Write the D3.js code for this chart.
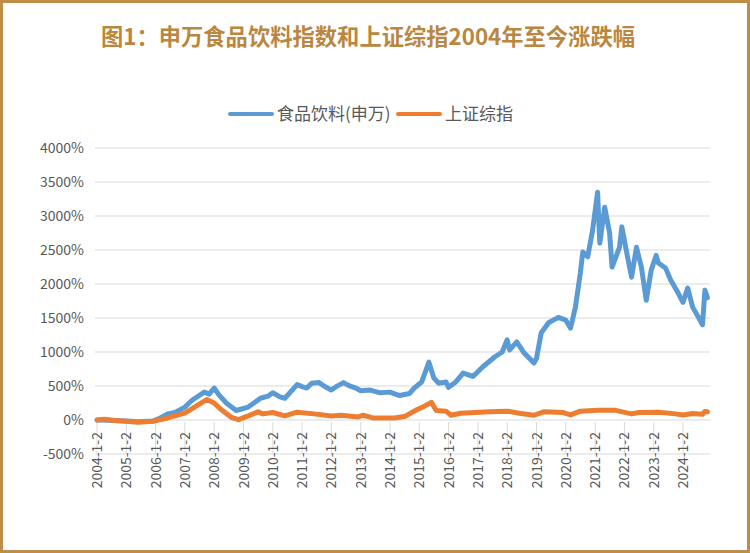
<!DOCTYPE html>
<html><head><meta charset="utf-8">
<script src="https://cdn.jsdelivr.net/npm/d3@7"></script>
<style>
html,body{margin:0;padding:0;background:#fff;}
svg{display:block;}
</style></head>
<body>
<script>
const title = "图1：申万食品饮料指数和上证综指2004年至今涨跌幅";
const seriesNames = ["食品饮料(申万)", "上证综指"];
const yTicks = [-500, 0, 500, 1000, 1500, 2000, 2500, 3000, 3500, 4000];
const xTickYears = d3.range(2004, 2025);

const foodDates = ["2004-01-02","2004-06","2005-01","2005-06","2005-12","2006-03","2006-06","2006-09","2007-01","2007-04","2007-09","2007-11","2008-01","2008-03","2008-06","2008-10","2009-03","2009-08","2009-11","2010-01","2010-04","2010-06","2010-11","2011-01","2011-03","2011-05","2011-08","2011-10","2012-01","2012-03","2012-06","2012-08","2012-11","2013-01","2013-05","2013-09","2014-01","2014-05","2014-09","2014-11","2015-02","2015-05","2015-07","2015-09","2015-12","2016-01","2016-04","2016-07","2016-11","2017-03","2017-08","2017-11","2018-01","2018-02","2018-05","2018-08","2018-12","2019-01","2019-03","2019-06","2019-10","2020-01","2020-03","2020-05","2020-07","2020-08","2020-10","2020-12","2021-02","2021-03","2021-05","2021-07","2021-08","2021-11","2021-12","2022-02","2022-04","2022-06","2022-08","2022-10","2022-12","2023-02","2023-03","2023-06","2023-08","2023-11","2024-01","2024-03","2024-05","2024-08","2024-09","2024-10","2024-11"];
const foodValues = [0,-5,-15,-25,-15,30,90,110,190,290,410,380,470,370,250,140,190,320,350,400,340,320,520,490,470,540,550,500,440,490,550,510,470,430,440,400,410,360,390,470,560,850,620,540,560,480,560,690,640,780,930,1000,1180,1030,1150,985,840,900,1280,1430,1510,1470,1350,1660,2160,2470,2400,2790,3350,2600,3130,2750,2250,2540,2840,2450,2100,2540,2250,1760,2200,2420,2310,2230,2060,1870,1730,1940,1660,1470,1400,1910,1800];

const shDates = ["2004-01-02","2004-04","2004-09","2005-01","2005-06","2005-12","2006-06","2007-01","2007-05","2007-10","2008-01","2008-04","2008-08","2008-11","2009-03","2009-07","2009-09","2010-01","2010-06","2010-11","2011-06","2012-01","2012-05","2012-12","2013-02","2013-06","2014-03","2014-07","2014-12","2015-03","2015-06","2015-08","2015-12","2016-02","2016-06","2017-06","2018-01","2018-06","2018-12","2019-04","2019-12","2020-03","2020-07","2021-02","2021-09","2022-04","2022-07","2023-03","2023-10","2024-01","2024-05","2024-09","2024-10","2024-11"];
const shValues = [0,10,-10,-20,-35,-20,30,100,190,300,250,150,40,5,60,120,90,110,60,115,90,60,70,45,70,30,30,50,150,200,260,140,130,70,100,120,130,100,70,120,110,75,130,145,145,90,110,115,90,75,95,85,125,120];

const W = 750, H = 553;
const svg = d3.select("body").append("svg").attr("width", W).attr("height", H);
const gold = "#BE8D48";
svg.append("rect").attr("x",1.5).attr("y",1.5).attr("width",W-3).attr("height",H-3)
  .attr("fill","#fff").attr("stroke",gold).attr("stroke-width",3);

svg.append("text").attr("x",368).attr("y",45).attr("text-anchor","middle")
  .attr("font-family","'Noto Sans CJK SC', sans-serif").attr("font-weight","bold")
  .attr("font-size",22.3).attr("fill","#B9873F").text(title);

const parse = s => s.length === 10 ? d3.timeParse("%Y-%m-%d")(s) : d3.timeParse("%Y-%m")(s);
const x = d3.scaleTime().domain([new Date(2004,0,2), new Date(2024,0,2)]).range([97, 683]);
const y = d3.scaleLinear().domain([-500, 4000]).range([454, 148]);

const font = "'Noto Sans CJK SC', sans-serif";
const grey = "#595959";
svg.append("g").selectAll("line").data(yTicks).join("line")
  .attr("x1",95).attr("x2",710).attr("y1",d=>y(d)).attr("y2",d=>y(d))
  .attr("stroke","#D9D9D9").attr("stroke-width",1);
svg.append("g").selectAll("text").data(yTicks).join("text")
  .attr("x",84).attr("y",d=>y(d)+5).attr("text-anchor","end")
  .attr("font-family",font).attr("font-size",14).attr("fill",grey)
  .text(d=>d+"%");
const xt = xTickYears.map(yr => new Date(yr,0,2));
svg.append("g").selectAll("line").data(xt).join("line")
  .attr("x1",d=>x(d)).attr("x2",d=>x(d)).attr("y1",y(0)+2).attr("y2",y(-500))
  .attr("stroke","#D9D9D9").attr("stroke-width",1);
svg.append("g").selectAll("text").data(xt).join("text")
  .attr("transform",d=>`translate(${x(d)+5},432) rotate(-90)`)
  .attr("text-anchor","end")
  .attr("font-family",font).attr("font-size",14).attr("fill",grey)
  .text(d=>d.getFullYear()+"-1-2");

const line = d3.line().x(d=>x(d[0])).y(d=>y(d[1])).curve(d3.curveLinear);
const food = foodDates.map((d,i)=>[parse(d), foodValues[i]]);
const sh = shDates.map((d,i)=>[parse(d), shValues[i]]);
svg.append("path").datum(food).attr("d",line).attr("fill","none")
  .attr("stroke","#5B9BD5").attr("stroke-width",5).attr("stroke-linejoin","round").attr("stroke-linecap","round");
svg.append("path").datum(sh).attr("d",line).attr("fill","none")
  .attr("stroke","#ED7D31").attr("stroke-width",5).attr("stroke-linejoin","round").attr("stroke-linecap","round");

const lg = svg.append("g").attr("font-family",font).attr("font-size",17).attr("fill",grey);
const items = [{n:seriesNames[0], c:"#5B9BD5", x:230}, {n:seriesNames[1], c:"#ED7D31", x:398}];
items.forEach(it=>{
  lg.append("line").attr("x1",it.x).attr("x2",it.x+42).attr("y1",114).attr("y2",114)
    .attr("stroke",it.c).attr("stroke-width",4).attr("stroke-linecap","round");
  lg.append("text").attr("x",it.x+47).attr("y",120).text(it.n);
});
</script>
</body></html>
